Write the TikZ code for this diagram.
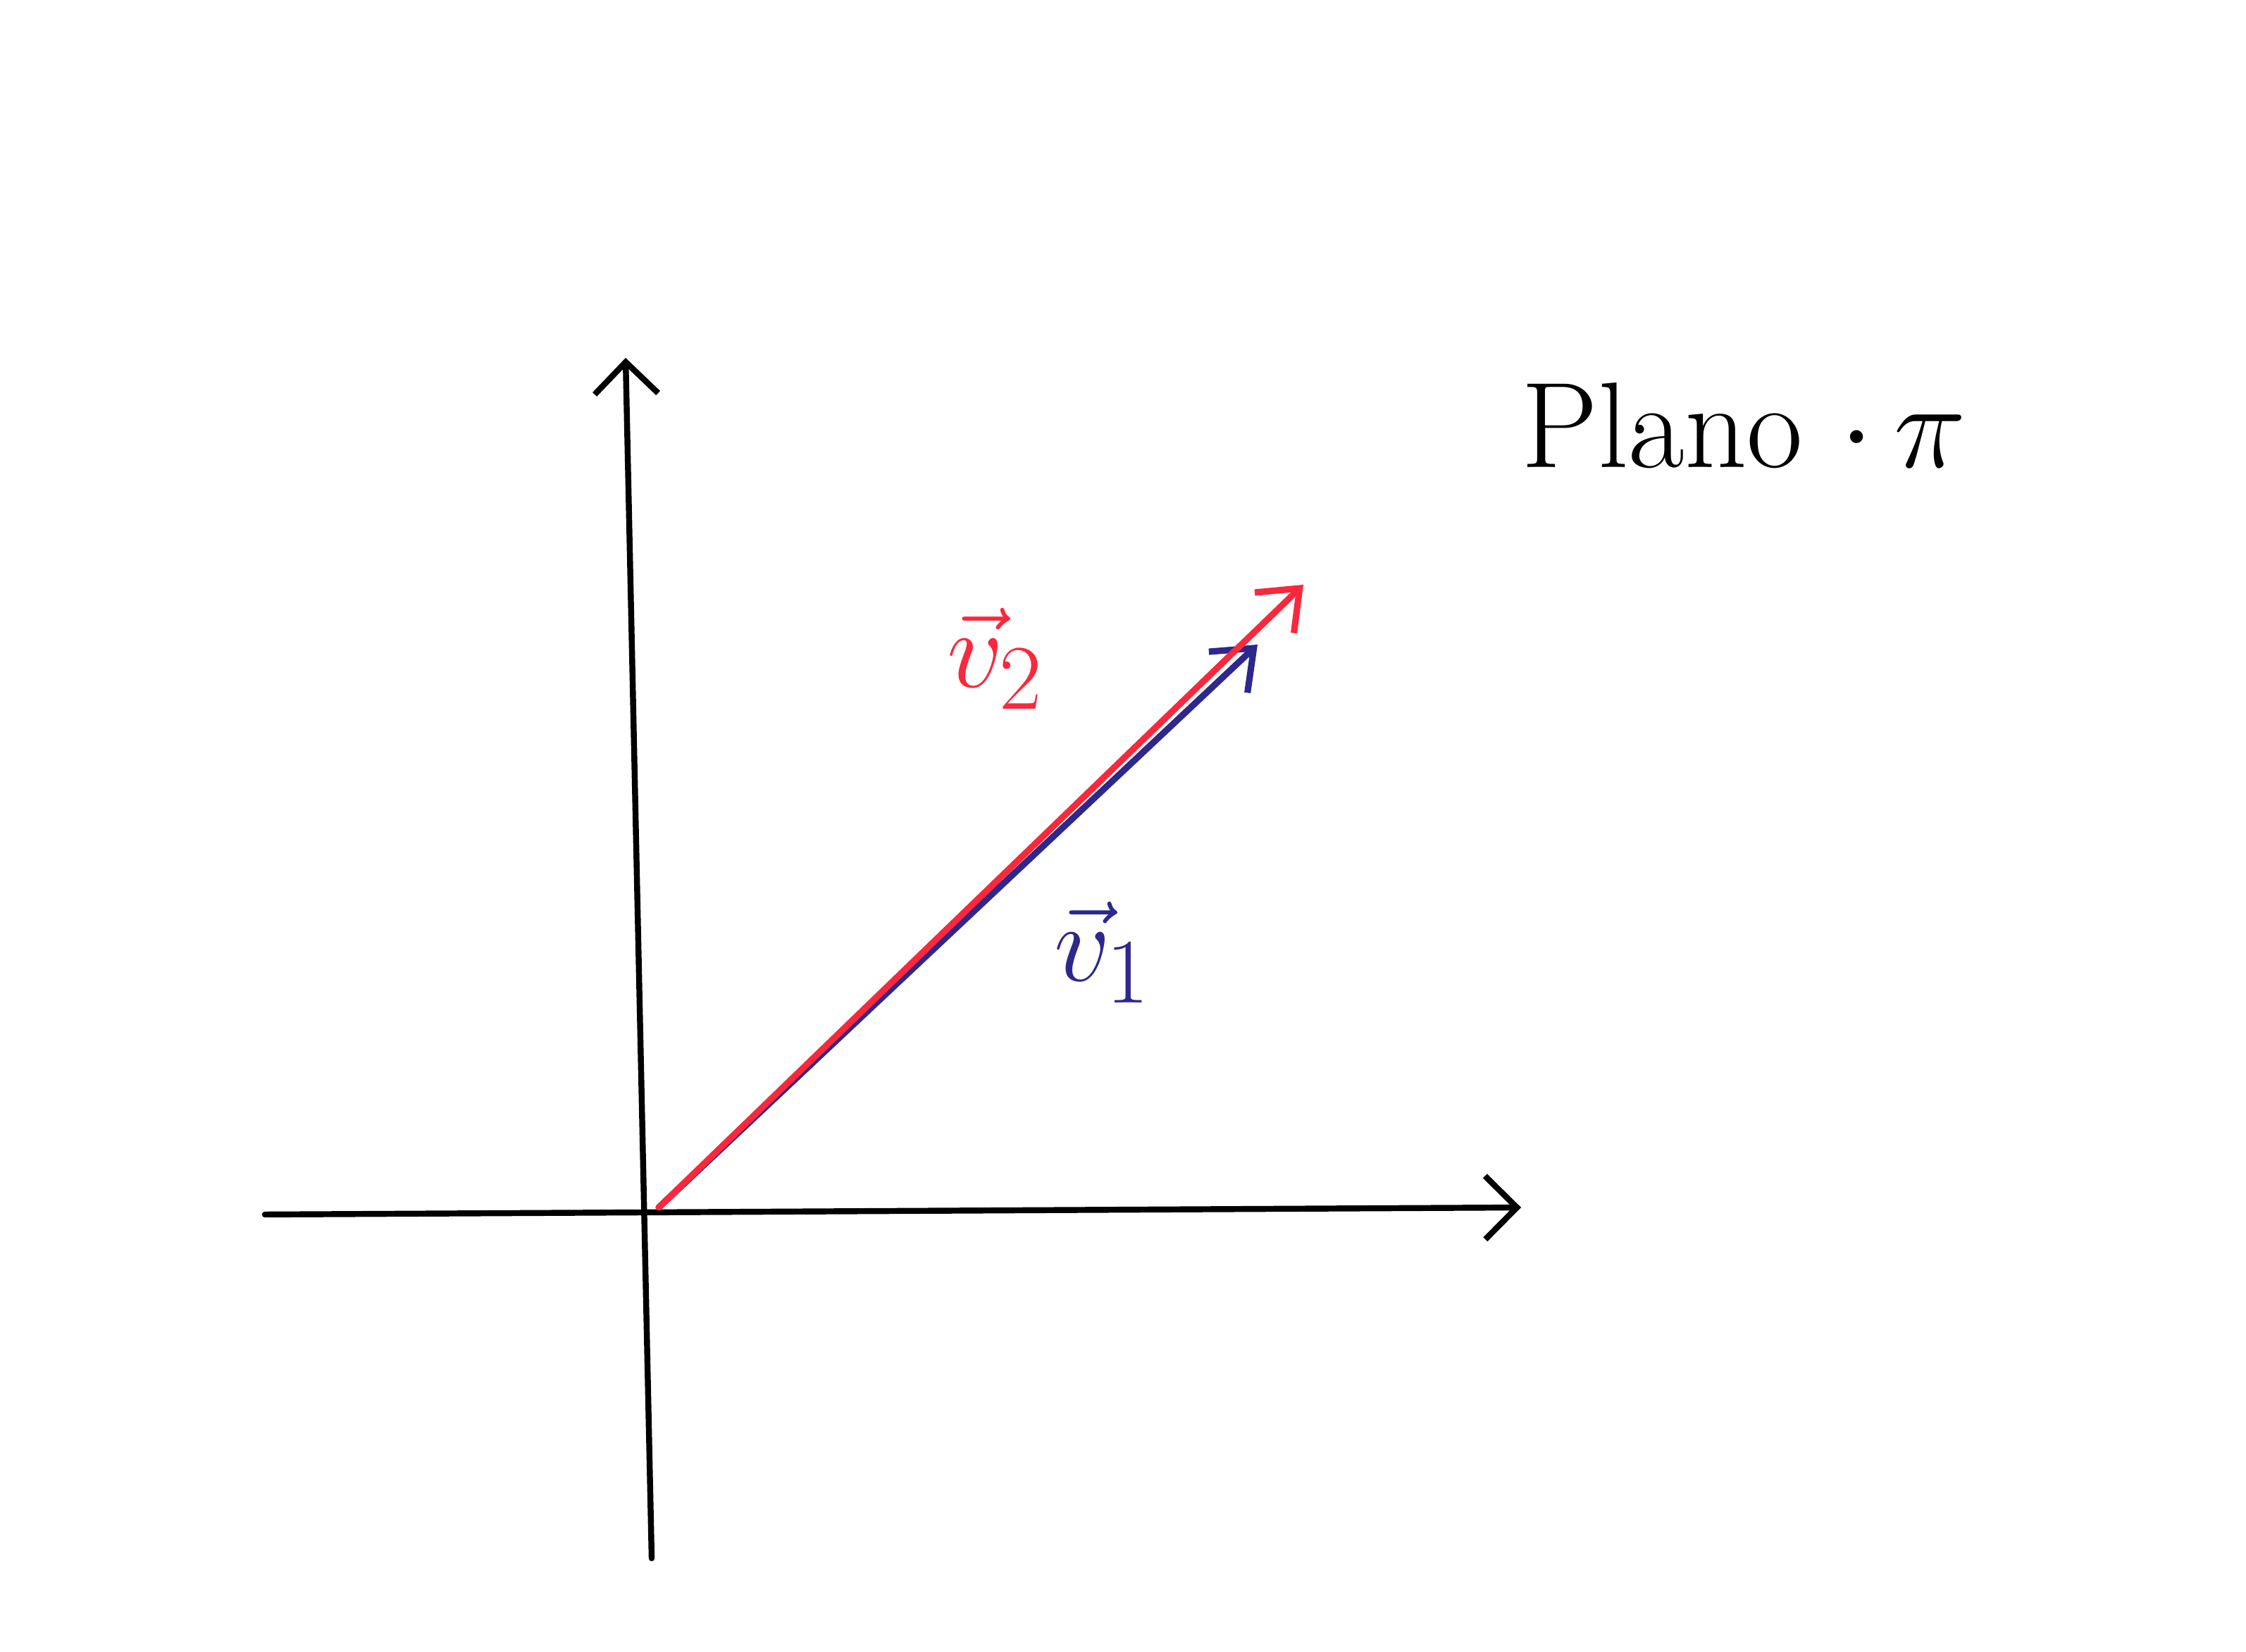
\documentclass[tikz,border=0pt]{standalone}
\usepackage{tikz}
\usetikzlibrary{positioning,arrows.meta}
\usepackage{xcolor}
\usepackage{amsmath,amssymb}
\definecolor{vecred}{RGB}{250,40,60}
\definecolor{vecblue}{RGB}{45,40,140}

\begin{document}
\begin{tikzpicture}
        \useasboundingbox (0,0) rectangle (31.88,23.44);
        \tikzset{axisline/.style={line width=2.4pt,line cap=round,
                   -{Straight Barb[length=4.5mm,width=9mm,line width=2.4pt]}},
                 vecline/.style={line width=2.6pt,line cap=round,
                   -{Straight Barb[length=5mm,width=8mm,line width=2.6pt]}},
                 biglabel/.style={font=\Huge,scale=1.8,transform shape}}
        \coordinate (O) at (9.35,6.30);
        \coordinate (xl) at (3.76,6.20);
        \coordinate (xr) at (21.59,6.30);
        \coordinate (yb) at (9.25,1.32);
        \coordinate (yt) at (8.88,18.36);
        \coordinate (v2) at (18.50,15.14);
        \coordinate (v1) at (17.85,14.29);
        % axes
        \draw[axisline] (xl) -- (xr);
        \draw[axisline] (yb) -- (yt);
        % vectors
        \draw[vecline,vecblue] (O) -- (v1);
        \draw[vecline,vecred] (O) -- (v2);
        \node[biglabel,text=vecred] (v2lab) at (14.13,14.09) {$\vec{v}_2$};
        \node[biglabel,text=vecblue] (v1lab) at (15.65,9.92) {$\vec{v}_1$};
        \node[biglabel,scale=1.1] (plano) at (24.75,17.40) {Plano ${\cdot}\,\pi$};
      \end{tikzpicture}
\end{document}
